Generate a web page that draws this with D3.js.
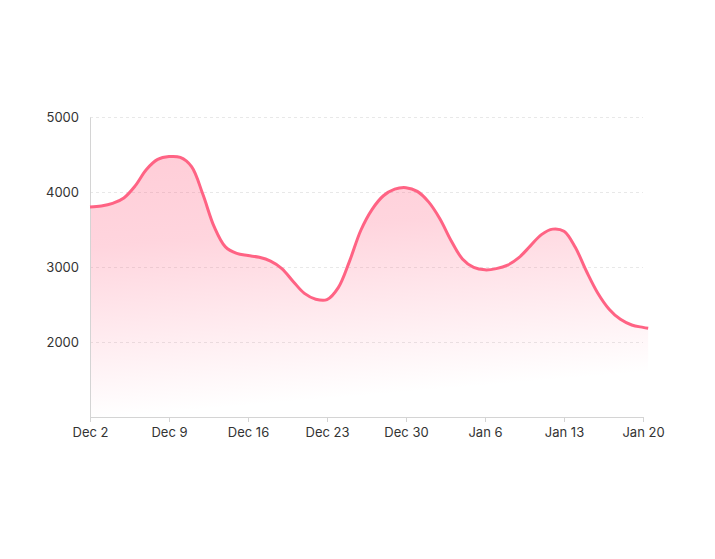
<!DOCTYPE html>
<html>
<head>
<meta charset="utf-8">
<script src="https://cdn.jsdelivr.net/npm/d3@7"></script>
<style>
  html, body { margin: 0; padding: 0; background: #fff; }
  svg { display: block; font-family: Inter, "Noto Sans", sans-serif; }
</style>
</head>
<body>
<svg id="chart" width="715" height="559"></svg>
<script>
// ---- data ----
const dates = [
  "2023-12-02T00:00", "2023-12-03T00:00", "2023-12-04T00:00", "2023-12-05T00:00", "2023-12-06T00:00",
  "2023-12-07T00:00", "2023-12-08T00:00", "2023-12-09T00:00", "2023-12-10T00:00", "2023-12-11T00:00",
  "2023-12-12T00:00", "2023-12-13T00:00", "2023-12-14T00:00", "2023-12-15T00:00", "2023-12-16T00:00",
  "2023-12-17T00:00", "2023-12-18T00:00", "2023-12-19T00:00", "2023-12-20T00:00", "2023-12-21T00:00",
  "2023-12-22T00:00", "2023-12-23T00:00", "2023-12-24T00:00", "2023-12-25T00:00", "2023-12-26T00:00",
  "2023-12-27T00:00", "2023-12-28T00:00", "2023-12-29T00:00", "2023-12-30T00:00", "2023-12-31T00:00",
  "2024-01-01T00:00", "2024-01-02T00:00", "2024-01-03T00:00", "2024-01-04T00:00", "2024-01-05T00:00",
  "2024-01-06T00:00", "2024-01-07T00:00", "2024-01-08T00:00", "2024-01-09T00:00", "2024-01-10T00:00",
  "2024-01-11T00:00", "2024-01-12T00:00", "2024-01-13T00:00", "2024-01-14T00:00", "2024-01-15T00:00",
  "2024-01-16T00:00", "2024-01-17T00:00", "2024-01-18T00:00", "2024-01-19T00:00", "2024-01-20T00:00",
  "2024-01-20T11:00"
];
const values = [
  3800, 3813, 3848, 3921, 4081,
  4300, 4434, 4472, 4461, 4338,
  3969, 3538, 3268, 3181, 3153,
  3129, 3078, 2979, 2808, 2648,
  2571, 2565, 2725, 3079, 3490,
  3769, 3950, 4038, 4058, 4008,
  3868, 3644, 3351, 3108, 2995,
  2962, 2978, 3024, 3124, 3278,
  3432, 3505, 3476, 3262, 2940,
  2651, 2438, 2302, 2227, 2195,
  2182
];
const tickDates = ["2023-12-02T00:00", "2023-12-09T00:00", "2023-12-16T00:00", "2023-12-23T00:00",
                   "2023-12-30T00:00", "2024-01-06T00:00", "2024-01-13T00:00", "2024-01-20T00:00"];
const yTicks = [2000, 3000, 4000, 5000];
const yDomain = [1000, 5000];

// ---- chart ----
const parse = d3.timeParse("%Y-%m-%dT%H:%M");
const data = dates.map((d, i) => ({ date: parse(d), value: values[i] }));
const ticks = tickDates.map(parse);

const margin = { left: 90, right: 72, top: 117, bottom: 142 };
const W = 715, H = 559;
const svg = d3.select("#chart");

const x = d3.scaleTime()
  .domain([ticks[0], ticks[ticks.length - 1]])
  .range([margin.left, W - margin.right]);
const y = d3.scaleLinear()
  .domain(yDomain)
  .range([H - margin.bottom, margin.top]);

// gradient
const defs = svg.append("defs");
const grad = defs.append("linearGradient")
  .attr("id", "fillGrad")
  .attr("gradientUnits", "userSpaceOnUse")
  .attr("x1", margin.left).attr("y1", y(4500))
  .attr("x2", margin.left + 22).attr("y2", y(1000));
grad.append("stop").attr("offset", "0").attr("stop-color", "#ff6384").attr("stop-opacity", 0.32);
grad.append("stop").attr("offset", "0.35").attr("stop-color", "#ff6384").attr("stop-opacity", 0.27);
grad.append("stop").attr("offset", "1").attr("stop-color", "#ff6384").attr("stop-opacity", 0);

// grid
svg.append("g")
  .selectAll("line")
  .data(yTicks)
  .join("line")
  .attr("x1", x.range()[0]).attr("x2", x.range()[1])
  .attr("y1", d => Math.round(y(d)) + 0.5).attr("y2", d => Math.round(y(d)) + 0.5)
  .attr("stroke", "#e8e8e8")
  .attr("stroke-width", 1)
  .attr("stroke-dasharray", "3,3");

const curve = d3.curveCatmullRom.alpha(0.5);

// area
const area = d3.area()
  .x(d => x(d.date))
  .y0(y(yDomain[0]))
  .y1(d => y(d.value))
  .curve(curve);
svg.append("path")
  .datum(data)
  .attr("d", area)
  .attr("fill", "url(#fillGrad)");

// axes
const xAxis = d3.axisBottom(x)
  .tickValues(ticks)
  .tickFormat(d3.timeFormat("%b %-d"))
  .tickSize(5)
  .tickPadding(6);
const gx = svg.append("g")
  .attr("transform", `translate(0,${y(yDomain[0])})`)
  .call(xAxis);
gx.select(".domain").attr("stroke", "#d4d4d4");
gx.selectAll(".tick line").attr("stroke", "#d4d4d4");
gx.selectAll(".tick text")
  .attr("fill", "#333")
  .style("font-size", "13px")
  .style("font-family", "Inter, sans-serif");

const yAxis = d3.axisLeft(y)
  .tickValues(yTicks)
  .tickFormat(d3.format("d"))
  .tickSize(0)
  .tickPadding(11);
const gy = svg.append("g")
  .attr("transform", `translate(${x.range()[0]},0)`)
  .call(yAxis);
gy.select(".domain").attr("stroke", "#d4d4d4");
gy.selectAll(".tick text")
  .attr("fill", "#333")
  .style("font-size", "13px")
  .style("font-family", "Inter, sans-serif");

// line
const line = d3.line()
  .x(d => x(d.date))
  .y(d => y(d.value))
  .curve(curve);
svg.append("path")
  .datum(data)
  .attr("d", line)
  .attr("fill", "none")
  .attr("stroke", "#ff6384")
  .attr("stroke-width", 3)
  .attr("stroke-linejoin", "round")
  .attr("stroke-linecap", "butt");
</script>
</body>
</html>
